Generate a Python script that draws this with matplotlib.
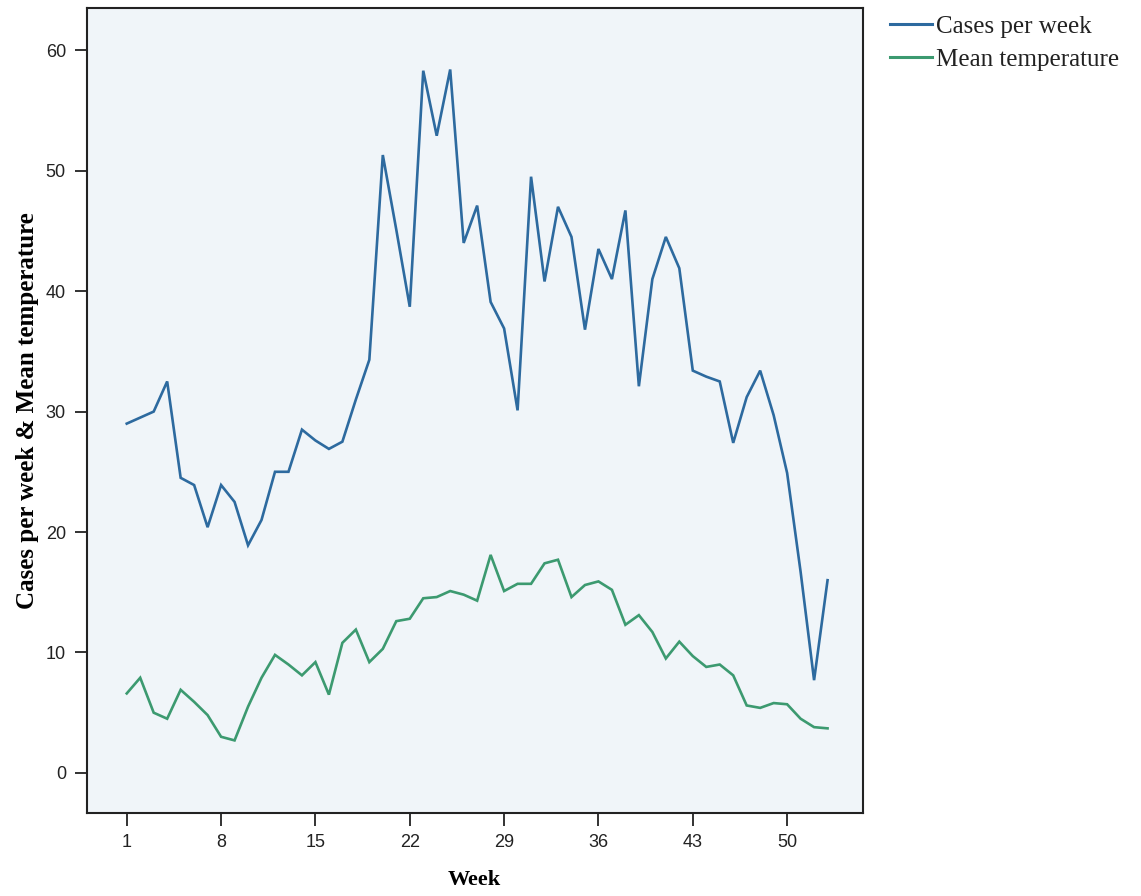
import matplotlib
matplotlib.use("Agg")
import matplotlib.pyplot as plt
from matplotlib.lines import Line2D

weeks = list(range(1, 54))
cases = [29.0, 29.5, 30.0, 32.5, 24.5, 23.9, 20.4, 23.9, 22.5, 18.9,
         21.0, 25.0, 25.0, 28.5, 27.6, 26.9, 27.5, 31.0, 34.3, 51.3,
         45.1, 38.7, 58.3, 52.9, 58.4, 44.0, 47.1, 39.1, 36.9, 30.1,
         49.5, 40.8, 47.0, 44.5, 36.8, 43.5, 41.0, 46.7, 32.1, 41.0,
         44.5, 41.9, 33.4, 32.9, 32.5, 27.4, 31.2, 33.4, 29.7, 24.9,
         16.7, 7.7, 16.0]
temperature = [6.6, 7.9, 5.0, 4.5, 6.9, 5.9, 4.8, 3.0, 2.7, 5.5,
               7.9, 9.8, 9.0, 8.1, 9.2, 6.5, 10.8, 11.9, 9.2, 10.3,
               12.6, 12.8, 14.5, 14.6, 15.1, 14.8, 14.3, 18.1, 15.1, 15.7,
               15.7, 17.4, 17.7, 14.6, 15.6, 15.9, 15.2, 12.3, 13.1, 11.7,
               9.5, 10.9, 9.7, 8.8, 9.0, 8.1, 5.6, 5.4, 5.8, 5.7,
               4.5, 3.8, 3.7]
x_ticks = [1, 8, 15, 22, 29, 36, 43, 50]
y_ticks = [0, 10, 20, 30, 40, 50, 60]
series_labels = ["Cases per week", "Mean temperature"]
blue = "#2D6A9F"
green = "#3C9A70"

fig = plt.figure(figsize=(11.41, 8.96), dpi=100)
ax = fig.add_axes([0.076, 0.093, 0.680, 0.898])
ax.set_facecolor("#F0F5F9")

ax.plot(weeks, cases, color=blue, lw=1.9, solid_joinstyle="miter")
ax.plot(weeks, temperature, color=green, lw=1.9, solid_joinstyle="miter")

ax.set_xlim(-1.97, 55.6)
ax.set_ylim(-3.3, 63.5)
ax.set_xticks(x_ticks)
ax.set_yticks(y_ticks)
ax.tick_params(axis="both", direction="out", length=9, width=1.3,
               colors="#222222", labelsize=13, pad=6)
for lab in ax.get_xticklabels() + ax.get_yticklabels():
    lab.set_fontfamily("Liberation Sans")
    lab.set_color("#222222")

for sp in ax.spines.values():
    sp.set_color("#222222")
    sp.set_linewidth(1.5)

ax.set_xlabel("Week", fontfamily="Liberation Serif", fontweight="bold",
              fontsize=16, labelpad=14)
ax.set_ylabel("Cases per week & Mean temperature", fontfamily="Liberation Serif",
              fontweight="bold", fontsize=18, labelpad=5)

handles = [Line2D([], [], color=blue, lw=2.2), Line2D([], [], color=green, lw=2.2)]
leg = fig.legend(handles, series_labels, loc="upper left",
                 bbox_to_anchor=(0.780, 0.983), frameon=False,
                 prop={"family": "Liberation Serif", "size": 18},
                 handlelength=1.7, handletextpad=0.15, labelspacing=0.42,
                 borderaxespad=0, borderpad=0)
for t in leg.get_texts():
    t.set_color("#222222")

fig.savefig("out.png", dpi=100, facecolor="white")
